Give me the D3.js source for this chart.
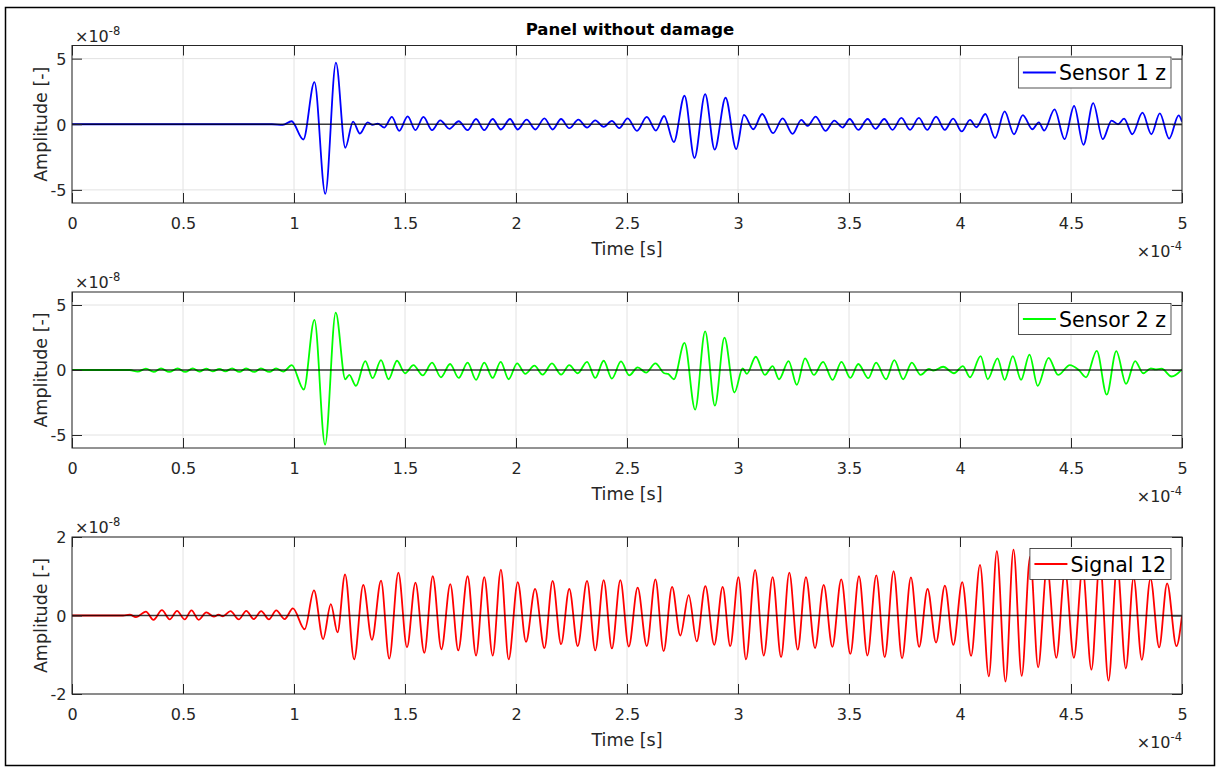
<!DOCTYPE html>
<html><head><meta charset="utf-8">
<script src="https://cdn.jsdelivr.net/npm/d3@7"></script>
<style>
body{margin:0;background:#fff}
text{font-family:"DejaVu Sans",sans-serif;fill:#262626}
</style>
</head><body>
<svg id="chart" width="1218" height="769"></svg>
<script>
// ---------- DATA (time in 1e-4 s, amplitude in 1e-8) ----------
const titleText = "Panel without damage";
const timeTicks = [0, 0.5, 1, 1.5, 2, 2.5, 3, 3.5, 4, 4.5, 5];
const sensorAmpTicks = [-5, 0, 5];
const signalAmpTicks = [-2, 0, 2];
const seriesNames = ["Sensor 1 z", "Sensor 2 z", "Signal 12"];
const seriesColors = ["#0000ff", "#00ff00", "#ff0000"];

// [time, amplitude] read at the local extrema of each trace
const sensor1 = [[0,0],[0.9,0],[0.95,-0.05],[0.989,0.23],[1.042,-1.16],[1.092,3.21],[1.141,-5.3],[1.189,4.7],[1.231,-1.79],[1.266,0.2],[1.297,-0.71],[1.332,0.15],[1.354,-0.05],[1.377,0.05],[1.407,-0.25],[1.441,0.56],[1.474,-0.5],[1.512,0.6],[1.547,-0.45],[1.583,0.56],[1.622,-0.45],[1.659,0.3],[1.70,-0.35],[1.742,0.23],[1.782,-0.45],[1.82,0.4],[1.857,-0.45],[1.895,0.4],[1.932,-0.4],[1.973,0.4],[2.008,-0.4],[2.048,0.35],[2.087,-0.4],[2.128,0.45],[2.165,-0.4],[2.203,0.4],[2.24,-0.3],[2.281,0.35],[2.32,-0.25],[2.357,0.3],[2.395,-0.2],[2.432,0.25],[2.465,-0.3],[2.503,0.45],[2.545,-0.5],[2.589,0.56],[2.630,-0.48],[2.667,0.63],[2.711,-1.36],[2.759,2.17],[2.804,-2.57],[2.852,2.29],[2.895,-1.94],[2.944,2.02],[2.992,-1.89],[3.027,0.71],[3.069,-0.38],[3.109,0.78],[3.158,-0.68],[3.201,0.45],[3.246,-0.73],[3.285,0.33],[3.314,-0.13],[3.350,0.58],[3.394,-0.5],[3.434,0.28],[3.471,-0.25],[3.503,0.4],[3.542,-0.43],[3.584,0.4],[3.619,-0.35],[3.659,0.4],[3.696,-0.43],[3.736,0.48],[3.775,-0.43],[3.815,0.48],[3.852,-0.43],[3.892,0.58],[3.932,-0.43],[3.969,0.43],[4.008,-0.55],[4.045,0.33],[4.074,-0.23],[4.114,0.78],[4.158,-1.06],[4.201,0.98],[4.243,-0.76],[4.283,0.7],[4.326,-0.38],[4.355,0.15],[4.379,-0.48],[4.426,1.13],[4.471,-1.14],[4.514,1.39],[4.556,-1.56],[4.6,1.61],[4.643,-1.14],[4.683,0.28],[4.712,0],[4.739,0.43],[4.776,-0.76],[4.822,0.88],[4.862,-0.76],[4.900,0.83],[4.942,-1.09],[4.985,0.68],[5.0,0.2]];

const sensor2 = [[0,0],[0.26,0],[0.296,-0.12],[0.333,0.1],[0.368,-0.15],[0.401,0.12],[0.438,-0.15],[0.476,0.12],[0.51,-0.15],[0.544,0.12],[0.574,-0.12],[0.604,0.1],[0.634,-0.1],[0.664,0.08],[0.691,-0.1],[0.721,0.12],[0.754,-0.15],[0.784,0.12],[0.821,-0.15],[0.851,0.12],[0.889,-0.15],[0.919,0.12],[0.952,-0.12],[0.99,0.37],[1.044,-1.5],[1.092,3.86],[1.14,-5.74],[1.188,4.42],[1.231,-0.71],[1.249,-0.38],[1.279,-1.22],[1.321,0.69],[1.354,-0.63],[1.392,0.76],[1.426,-0.71],[1.464,0.71],[1.5,-0.25],[1.538,0.38],[1.58,-0.41],[1.622,0.56],[1.662,-0.56],[1.703,0.46],[1.742,-0.61],[1.782,0.56],[1.82,-0.76],[1.857,0.56],[1.895,-0.61],[1.931,0.63],[1.967,-0.71],[2.005,0.51],[2.042,-0.3],[2.083,0.33],[2.12,-0.36],[2.162,0.51],[2.203,-0.36],[2.24,0.38],[2.278,-0.25],[2.32,0.63],[2.357,-0.61],[2.395,0.71],[2.432,-0.66],[2.473,0.66],[2.51,-0.41],[2.548,0.2],[2.586,-0.2],[2.628,0.51],[2.668,-0.25],[2.685,-0.3],[2.711,-0.71],[2.759,2.08],[2.807,-3.05],[2.852,2.97],[2.896,-2.74],[2.939,2.49],[2.984,-1.73],[3.021,0.13],[3.04,-0.3],[3.08,1.02],[3.121,-0.38],[3.156,0.3],[3.185,-0.71],[3.228,0.69],[3.265,-1.14],[3.302,0.89],[3.342,-0.38],[3.383,0.63],[3.426,-0.76],[3.466,0.63],[3.506,-0.61],[3.542,0.46],[3.587,-0.63],[3.622,0.56],[3.667,-0.71],[3.704,0.76],[3.744,-0.71],[3.783,0.56],[3.823,-0.38],[3.86,0.08],[3.88,-0.05],[3.924,0.25],[3.973,-0.25],[4.013,0.3],[4.045,-0.56],[4.093,1.07],[4.125,-0.71],[4.169,0.89],[4.201,-0.76],[4.238,1.07],[4.275,-0.76],[4.313,1.19],[4.35,-1.22],[4.399,0.94],[4.442,-0.38],[4.495,0.38],[4.535,0.0],[4.568,-0.56],[4.616,1.47],[4.661,-1.9],[4.704,1.45],[4.748,-1.07],[4.789,0.69],[4.825,-0.25],[4.86,0.13],[4.88,0.05],[4.908,0.1],[4.953,-0.5],[5.0,0.05]];

const signal12 = [[0,0],[0.23,0],[0.26,0.02],[0.288,-0.04],[0.333,0.1],[0.367,-0.11],[0.405,0.135],[0.44,-0.1],[0.473,0.12],[0.508,-0.1],[0.538,0.13],[0.571,-0.11],[0.605,0.08],[0.639,-0.03],[0.66,0.02],[0.68,-0.02],[0.714,0.11],[0.751,-0.1],[0.785,0.12],[0.819,-0.09],[0.852,0.11],[0.887,-0.1],[0.92,0.13],[0.958,-0.09],[0.995,0.18],[1.048,-0.35],[1.09,0.64],[1.131,-0.6],[1.166,0.29],[1.196,-0.43],[1.23,1.05],[1.271,-1.12],[1.312,0.78],[1.351,-0.62],[1.392,0.89],[1.429,-1.1],[1.47,1.09],[1.509,-0.81],[1.547,0.84],[1.587,-0.95],[1.625,1.0],[1.664,-0.86],[1.704,0.8],[1.74,-0.89],[1.782,1.0],[1.82,-1.02],[1.857,0.98],[1.895,-1.02],[1.932,1.17],[1.967,-1.12],[2.008,0.85],[2.045,-0.67],[2.086,0.68],[2.128,-0.83],[2.165,0.88],[2.203,-0.73],[2.24,0.68],[2.278,-0.78],[2.32,0.88],[2.357,-0.89],[2.395,0.9],[2.432,-0.84],[2.47,0.9],[2.508,-0.79],[2.548,0.71],[2.589,-0.78],[2.628,0.92],[2.665,-0.91],[2.703,0.73],[2.74,-0.51],[2.778,0.52],[2.814,-0.66],[2.853,0.75],[2.893,-0.75],[2.931,0.73],[2.965,-0.78],[3.002,0.98],[3.036,-1.12],[3.077,1.16],[3.116,-1.02],[3.156,0.98],[3.194,-1.06],[3.231,1.09],[3.269,-0.87],[3.306,0.98],[3.347,-0.83],[3.386,0.78],[3.425,-0.8],[3.465,0.92],[3.506,-0.98],[3.545,1.0],[3.583,-1.02],[3.623,1.02],[3.661,-1.06],[3.701,1.13],[3.739,-1.09],[3.779,0.97],[3.816,-0.8],[3.854,0.68],[3.892,-0.69],[3.932,0.76],[3.97,-0.75],[4.01,0.85],[4.05,-1.03],[4.09,1.29],[4.13,-1.55],[4.166,1.64],[4.205,-1.68],[4.241,1.68],[4.278,-1.54],[4.316,1.5],[4.352,-1.32],[4.392,1.25],[4.434,-1.08],[4.473,1.15],[4.513,-1.08],[4.552,1.2],[4.592,-1.38],[4.63,1.4],[4.669,-1.66],[4.708,1.3],[4.747,-1.35],[4.782,0.97],[4.819,-1.13],[4.858,0.94],[4.897,-0.81],[4.933,0.82],[4.975,-0.78],[5.0,0.0]];

// ---------- LAYOUT ----------
const W = 1218, H = 769;
const plotLeft = 72, plotRight = 1182;
const panels = [
  {data: sensor1, top: 45.5, bottom: 203, yDomain: [-6, 6], yTicks: sensorAmpTicks},
  {data: sensor2, top: 292, bottom: 448, yDomain: [-6, 6], yTicks: sensorAmpTicks},
  {data: signal12, top: 537, bottom: 694, yDomain: [-2, 2], yTicks: signalAmpTicks}
];
const axisColor = "#262626";
const gridColor = "#e2e2e2";

const svg = d3.select("#chart");
svg.append("rect").attr("width", W).attr("height", H).attr("fill", "#fff");
svg.append("rect").attr("x", 5.5).attr("y", 7.5).attr("width", 1209).attr("height", 758)
  .attr("fill", "none").attr("stroke", "#000").attr("stroke-width", 1.5);

svg.append("text").attr("x", 630).attr("y", 35).attr("text-anchor", "middle")
  .style("font-size", "16.5px").style("font-weight", "bold").style("fill", "#000")
  .text(titleText);

const x = d3.scaleLinear().domain([0, 5]).range([plotLeft, plotRight]);

panels.forEach((p, i) => {
  const y = d3.scaleLinear().domain(p.yDomain).range([p.bottom, p.top]);
  const g = svg.append("g");

  // grid
  g.selectAll(".gx").data(timeTicks).join("line")
    .attr("x1", d => x(d)).attr("x2", d => x(d)).attr("y1", p.top).attr("y2", p.bottom)
    .attr("stroke", gridColor).attr("stroke-width", 1);
  g.selectAll(".gy").data(p.yTicks).join("line")
    .attr("x1", plotLeft).attr("x2", plotRight).attr("y1", d => y(d)).attr("y2", d => y(d))
    .attr("stroke", gridColor).attr("stroke-width", 1);

  // clip
  const cid = "clip" + i;
  svg.append("clipPath").attr("id", cid).append("rect")
    .attr("x", plotLeft).attr("y", p.top).attr("width", plotRight - plotLeft).attr("height", p.bottom - p.top);

  const line = d3.line().x(d => x(d[0])).y(d => y(d[1])).curve(d3.curveMonotoneX);
  g.append("path").datum(p.data).attr("d", line)
    .attr("fill", "none").attr("stroke", seriesColors[i]).attr("stroke-width", 1.8)
    .attr("stroke-linejoin", "round").attr("clip-path", `url(#${cid})`);

  // zero reference line
  g.append("line").attr("x1", x(0)).attr("x2", x(5)).attr("y1", y(0)).attr("y2", y(0))
    .attr("stroke", "#000").attr("stroke-opacity", 0.75).attr("stroke-width", 1.3);

  // axes
  const styleAxis = a => {
    a.select(".domain").remove();
    a.attr("font-size", null).attr("font-family", null);
    a.selectAll("line").attr("stroke", axisColor);
    a.selectAll("text").style("font-size", "16px");
  };
  g.append("g").attr("transform", `translate(0,${p.bottom})`)
    .call(d3.axisBottom(x).tickValues(timeTicks).tickSize(-10).tickFormat(d => String(d)))
    .call(styleAxis)
    .call(a => a.selectAll("text").attr("y", 26).attr("dy", null));
  g.append("g").attr("transform", `translate(0,${p.top})`)
    .call(d3.axisTop(x).tickValues(timeTicks).tickSize(-10).tickFormat(""))
    .call(styleAxis);
  g.append("g").attr("transform", `translate(${plotLeft},0)`)
    .call(d3.axisLeft(y).tickValues(p.yTicks).tickSize(-10).tickFormat(d => String(d)))
    .call(styleAxis)
    .call(a => a.selectAll("text").attr("x", -5.5).attr("dy", "0.36em"));
  g.append("g").attr("transform", `translate(${plotRight},0)`)
    .call(d3.axisRight(y).tickValues(p.yTicks).tickSize(-10).tickFormat(""))
    .call(styleAxis);

  g.append("rect").attr("x", plotLeft).attr("y", p.top)
    .attr("width", plotRight - plotLeft).attr("height", p.bottom - p.top)
    .attr("fill", "none").attr("stroke", axisColor).attr("stroke-width", 1);

  // labels
  g.append("text").attr("x", (plotLeft + plotRight) / 2).attr("y", p.bottom + 51.5)
    .attr("text-anchor", "middle").style("font-size", "17.5px").text("Time [s]");
  const ex = g.append("text").attr("x", plotRight).attr("y", p.bottom + 54)
    .attr("text-anchor", "end").style("font-size", "16px");
  ex.append("tspan").text("×10");
  ex.append("tspan").attr("dy", -7).style("font-size", "11.5px").text("-4");

  const ey = g.append("text").attr("x", 75).attr("y", p.top - 4).style("font-size", "16px");
  ey.append("tspan").text("×10");
  ey.append("tspan").attr("dy", -7).style("font-size", "11.5px").text("-8");

  g.append("text").attr("transform", `translate(47,${(p.top + p.bottom) / 2}) rotate(-90)`)
    .attr("text-anchor", "middle").style("font-size", "17.5px").text("Amplitude [-]");

  // legend
  const lg = g.append("g");
  const boxRight = plotRight - 11;
  const boxTop = p.top + 11.5, boxH = 31;
  const lt = lg.append("text").attr("y", boxTop + boxH / 2 + 7.5)
    .style("font-size", "20.5px").style("fill", "#000").text(seriesNames[i]);
  const tl = lt.node().getComputedTextLength();
  const textStart = boxRight - 5 - tl;
  lt.attr("x", textStart);
  const lineStart = textStart - 36;
  lg.insert("rect", "text").attr("x", lineStart - 4.5).attr("y", boxTop)
    .attr("width", boxRight - lineStart + 4.5).attr("height", boxH)
    .attr("fill", "#fff").attr("stroke", axisColor).attr("stroke-width", 0.8);
  lg.append("line").attr("x1", lineStart).attr("x2", textStart - 3)
    .attr("y1", boxTop + boxH / 2).attr("y2", boxTop + boxH / 2)
    .attr("stroke", seriesColors[i]).attr("stroke-width", 1.8);
});
</script>
</body></html>
